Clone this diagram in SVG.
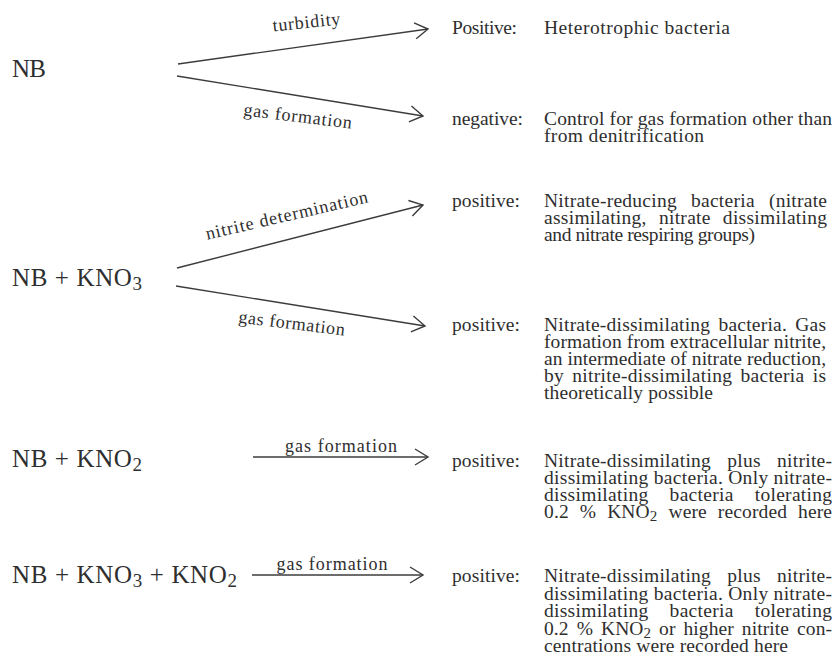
<svg xmlns="http://www.w3.org/2000/svg" width="837" height="663" viewBox="0 0 837 663">
<style>
text{font-family:"Liberation Serif","Times New Roman",serif;fill:#2e2e2e}
.med{font-size:25px}
.sub{font-size:19px}
.lab{font-size:18px}
.res{font-size:19.5px}
.rsub{font-size:15px}
.con{stroke:#3c3c3c;stroke-width:1.4;fill:none;marker-end:url(#ah)}
</style>
<defs>
<marker id="ah" markerUnits="userSpaceOnUse" markerWidth="20" markerHeight="20" refX="15" refY="10" orient="auto" overflow="visible">
<path d="M2,2 L15,10 L2,18" fill="none" stroke="#3c3c3c" stroke-width="1.4"/>
</marker>
</defs>
<rect width="837" height="663" fill="#fff"/>

<g id="connectors">
<line class="con" x1="178" y1="64" x2="428" y2="29"/>
<line class="con" x1="177" y1="76" x2="423" y2="116"/>
<line class="con" x1="177" y1="268" x2="423" y2="205"/>
<line class="con" x1="176" y1="286" x2="425" y2="326"/>
<line class="con" x1="253" y1="457" x2="428" y2="457"/>
<line class="con" x1="252" y1="575" x2="423" y2="575"/>
<text class="lab" text-anchor="middle" transform="translate(307,28) rotate(-6)" textLength="68" lengthAdjust="spacing">turbidity</text>
<text class="lab" text-anchor="middle" transform="translate(297,122) rotate(7)" textLength="109" lengthAdjust="spacing">gas formation</text>
<text class="lab" text-anchor="middle" transform="translate(288,221) rotate(-13)" textLength="166" lengthAdjust="spacing">nitrite determination</text>
<text class="lab" text-anchor="middle" transform="translate(291,329) rotate(7)" textLength="107" lengthAdjust="spacing">gas formation</text>
<text class="lab" text-anchor="middle" x="341" y="452" textLength="112" lengthAdjust="spacing">gas formation</text>
<text class="lab" text-anchor="middle" x="332" y="570" textLength="111" lengthAdjust="spacing">gas formation</text>
</g>

<g id="medium-nb">
<text class="med" x="12" y="77" textLength="34" lengthAdjust="spacing">NB</text>
</g>
<g id="medium-nb-kno3">
<text class="med" x="12" y="286" textLength="130" lengthAdjust="spacing">NB + KNO<tspan class="sub" dy="4">3</tspan></text>
</g>
<g id="medium-nb-kno2">
<text class="med" x="12" y="467" textLength="130" lengthAdjust="spacing">NB + KNO<tspan class="sub" dy="4">2</tspan></text>
</g>
<g id="medium-nb-kno3-kno2">
<text class="med" x="12" y="583" textLength="225" lengthAdjust="spacing">NB + KNO<tspan class="sub" dy="4">3</tspan><tspan dy="-4"> + KNO</tspan><tspan class="sub" dy="4">2</tspan></text>
</g>

<g id="result-1">
<text class="res" x="452" y="34" textLength="65" lengthAdjust="spacing">Positive:</text>
<text class="res" x="544" y="34" textLength="186" lengthAdjust="spacing">Heterotrophic bacteria</text>
</g>
<g id="result-2">
<text class="res" x="452" y="125" textLength="71" lengthAdjust="spacing">negative:</text>
<text class="res" x="544" y="125" textLength="288" lengthAdjust="spacing">Control for gas formation other than</text>
<text class="res" x="544" y="142" textLength="160" lengthAdjust="spacing">from denitrification</text>
</g>
<g id="result-3">
<text class="res" x="452" y="207" textLength="68" lengthAdjust="spacing">positive:</text>
<text class="res" x="544" y="207" word-spacing="9" textLength="283" lengthAdjust="spacing">Nitrate-reducing bacteria (nitrate</text>
<text class="res" x="544" y="224" word-spacing="7" textLength="283" lengthAdjust="spacing">assimilating, nitrate dissimilating</text>
<text class="res" x="544" y="241" textLength="211" lengthAdjust="spacing">and nitrate respiring groups)</text>
</g>
<g id="result-4">
<text class="res" x="452" y="331" textLength="68" lengthAdjust="spacing">positive:</text>
<text class="res" x="544" y="331" word-spacing="3" textLength="282" lengthAdjust="spacing">Nitrate-dissimilating bacteria. Gas</text>
<text class="res" x="544" y="348" textLength="282" lengthAdjust="spacing">formation from extracellular nitrite,</text>
<text class="res" x="544" y="365" textLength="282" lengthAdjust="spacing">an intermediate of nitrate reduction,</text>
<text class="res" x="544" y="382" word-spacing="3" textLength="282" lengthAdjust="spacing">by nitrite-dissimilating bacteria is</text>
<text class="res" x="544" y="399" textLength="169" lengthAdjust="spacing">theoretically possible</text>
</g>
<g id="result-5">
<text class="res" x="452" y="467" textLength="68" lengthAdjust="spacing">positive:</text>
<text class="res" x="544" y="467" word-spacing="11" textLength="288" lengthAdjust="spacing">Nitrate-dissimilating plus nitrite-</text>
<text class="res" x="544" y="484" textLength="288" lengthAdjust="spacing">dissimilating bacteria. Only nitrate-</text>
<text class="res" x="544" y="501" word-spacing="16" textLength="288" lengthAdjust="spacing">dissimilating bacteria tolerating</text>
<text class="res" x="544" y="518" word-spacing="6" textLength="288" lengthAdjust="spacing">0.2 % KNO<tspan class="rsub" dy="3">2</tspan><tspan dy="-3"> were recorded here</tspan></text>
</g>
<g id="result-6">
<text class="res" x="452" y="582" textLength="68" lengthAdjust="spacing">positive:</text>
<text class="res" x="544" y="582" word-spacing="11" textLength="288" lengthAdjust="spacing">Nitrate-dissimilating plus nitrite-</text>
<text class="res" x="544" y="599.5" textLength="288" lengthAdjust="spacing">dissimilating bacteria. Only nitrate-</text>
<text class="res" x="544" y="617" word-spacing="16" textLength="288" lengthAdjust="spacing">dissimilating bacteria tolerating</text>
<text class="res" x="544" y="634.5" word-spacing="3" textLength="288" lengthAdjust="spacing">0.2 % KNO<tspan class="rsub" dy="3">2</tspan><tspan dy="-3"> or higher nitrite con-</tspan></text>
<text class="res" x="544" y="652" textLength="244" lengthAdjust="spacing">centrations were recorded here</text>
</g>
</svg>
